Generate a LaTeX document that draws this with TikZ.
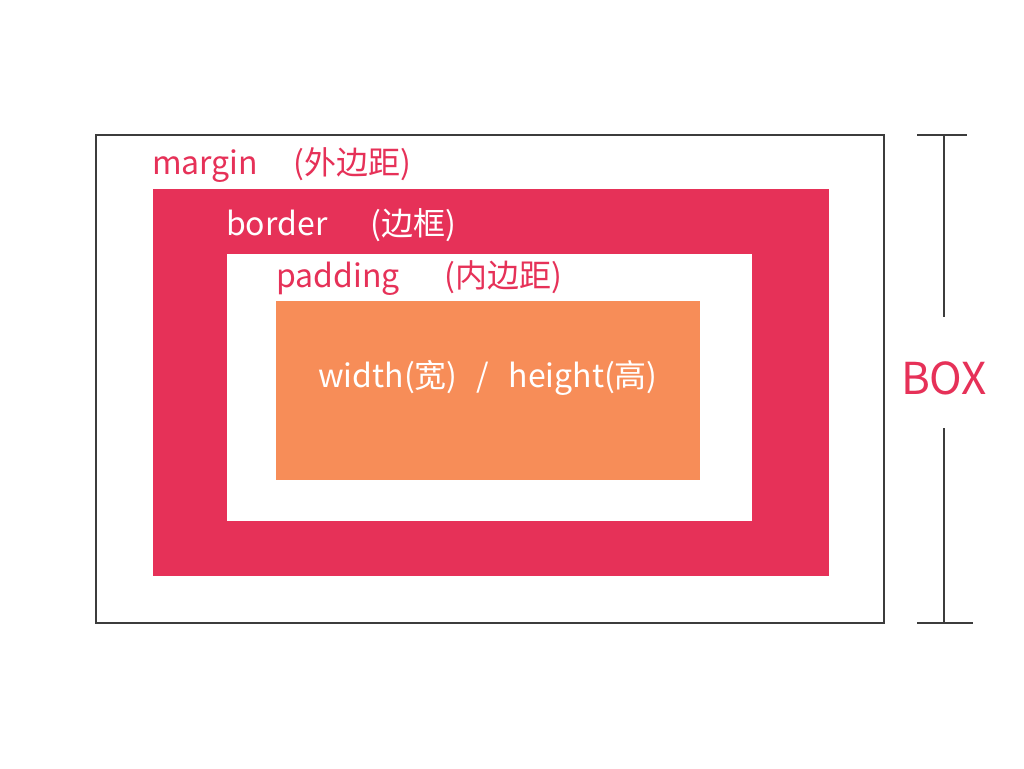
\documentclass[tikz,border=0pt]{standalone}
\usepackage{fontspec}
\setmainfont{Noto Sans CJK SC}
\definecolor{boxred}{HTML}{E63158}
\definecolor{boxorange}{HTML}{F78D58}
\definecolor{boxgray}{HTML}{3C3C3C}
\begin{document}
\begin{tikzpicture}[x=1pt,y=-1pt,
  lbl/.style={anchor=base west,inner sep=0pt,font=\fontsize{32}{36}\selectfont},
  dimline/.style={draw=boxgray,line width=1.3pt}]
\useasboundingbox (0,0) rectangle (1024,768);
\fill[white] (0,0) rectangle (1024,768);
% boxes
\draw[boxgray,line width=1.6pt] (96,135) rectangle (884,623);
\fill[boxred] (153,189) rectangle (829,576);
\fill[white] (227,254) rectangle (752,521);
\fill[boxorange] (276,301) rectangle (700,480);
% labels
\node[lbl,text=boxred] (lm) at (152,174) {margin\hspace{1.1em}(外边距)};
\node[lbl,text=white] (lb) at (226,235) {border\hspace{1.35em}(边框)};
\node[lbl,text=boxred] (lp) at (276,287) {padding\hspace{1.4em}(内边距)};
\node[inner sep=0pt,text=white,font=\fontsize{32}{36}\selectfont] (lw) at (488,378) {width(宽)\hspace{0.6em}/\hspace{0.6em}height(高)};
% dimension
\coordinate (t1) at (917,135);
\coordinate (t2) at (967,135);
\coordinate (b1) at (917,623);
\coordinate (b2) at (973,623);
\coordinate (tm) at (944,135);
\coordinate (bm) at (944,623);
\node[inner sep=0pt,text=boxred,font=\fontsize{44}{48}\selectfont] (box) at (944,378) {BOX};
\coordinate (g1) at (944,317);
\coordinate (g2) at (944,428);
\draw[dimline] (t1) -- (t2);
\draw[dimline] (b1) -- (b2);
\draw[dimline] (tm) -- (g1);
\draw[dimline] (g2) -- (bm);
\end{tikzpicture}
\end{document}
